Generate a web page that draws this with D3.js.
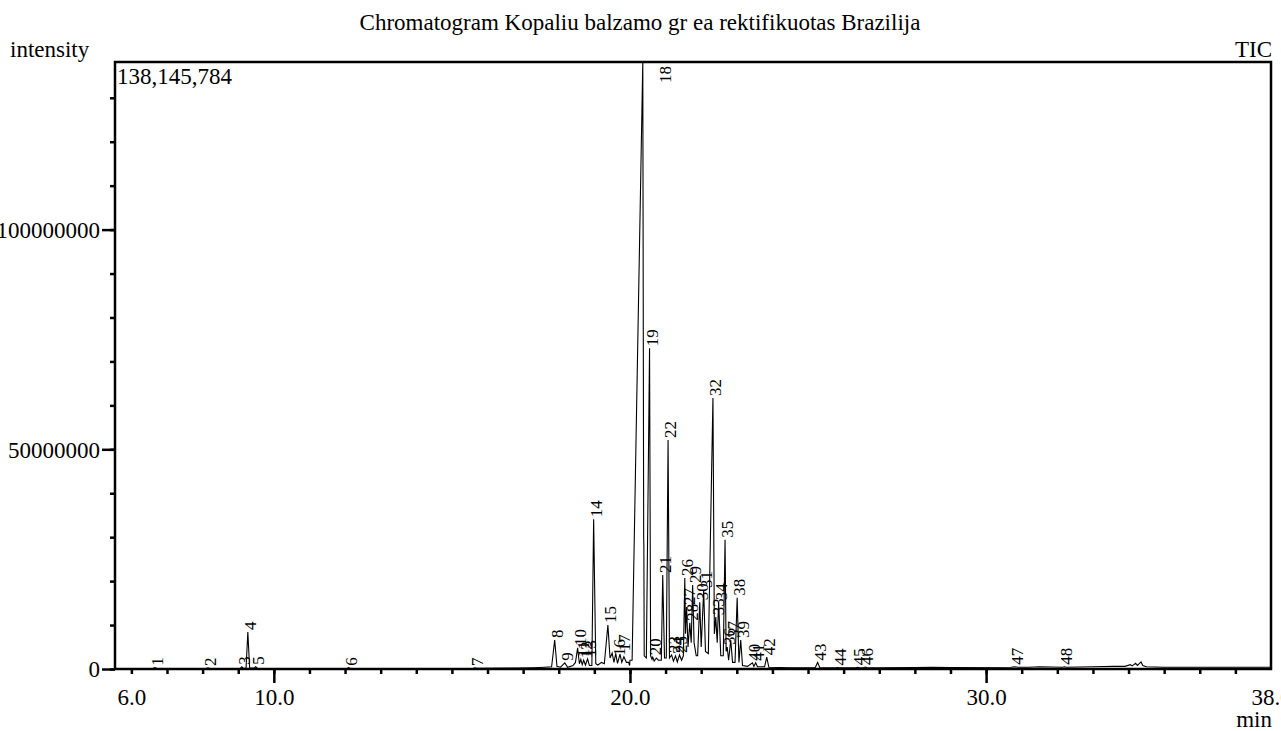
<!DOCTYPE html>
<html>
<head>
<meta charset="utf-8">
<script src="https://cdn.jsdelivr.net/npm/d3@7/dist/d3.min.js"></script>
<style>
  html, body { margin: 0; padding: 0; background: #fff; overflow: hidden; }
  svg { display: block; }
</style>
</head>
<body>
<svg id="chart" width="1281" height="731"></svg>
<script>
// ---- data (time in min, intensity in counts) ----
const titleText = "Chromatogram Kopaliu balzamo gr ea rektifikuotas Brazilija";
const maxIntensity = 138145784;
const timeDomain = [5.54, 38.0];

// TIC trace (time, intensity in millions)
const traceTimes = [
  5.54, 6.60, 6.66, 6.72, 8.10, 8.15, 8.20, 9.05, 9.10, 9.15, 9.22, 9.27, 9.32, 9.44, 9.49, 9.55,
  12.05, 12.10, 12.15, 15.60, 15.64, 15.70, 16.80, 17.30, 17.60, 17.80, 17.886, 17.95, 18.05, 18.17,
  18.25, 18.40, 18.47, 18.53, 18.58, 18.62, 18.66, 18.70, 18.75, 18.81, 18.86, 18.93, 18.98, 19.04,
  19.10, 19.20, 19.28, 19.38, 19.44, 19.50, 19.55, 19.60, 19.65, 19.72, 19.77, 19.83, 19.90, 19.96,
  19.99, 20.00, 20.06, 20.36, 20.385, 20.39, 20.40, 20.46, 20.55, 20.58, 20.62, 20.64, 20.68, 20.74,
  20.80, 20.88, 20.92, 20.97, 21.02, 21.07, 21.11, 21.17, 21.22, 21.28, 21.33, 21.39, 21.45, 21.50,
  21.54, 21.56, 21.59, 21.63, 21.68, 21.72, 21.76, 21.80, 21.86, 21.90, 21.96, 22.00, 22.07, 22.12,
  22.20, 22.33, 22.37, 22.41, 22.45, 22.49, 22.55, 22.62, 22.67, 22.70, 22.73, 22.77, 22.83, 22.88,
  22.95, 23.01, 23.06, 23.11, 23.16, 23.30, 23.44, 23.48, 23.53, 23.58, 23.78, 23.84, 23.90, 24.50,
  25.20, 25.27, 25.33, 25.78, 25.83, 25.88, 26.34, 26.39, 26.45, 26.55, 26.61, 26.66, 27.00, 28.00,
  28.50, 29.00, 30.70, 30.80, 30.90, 31.20, 31.50, 32.15, 32.20, 32.25, 33.00, 33.60, 33.90, 34.05,
  34.10, 34.20, 34.25, 34.35, 34.40, 34.50, 35.00, 36.00, 38.00
];
const traceValues = [
  0.1, 0.1, 0.3, 0.1, 0.1, 0.25, 0.1, 0.1, 0.5, 0.15, 0.2, 8.4, 0.3, 0.2, 0.5, 0.1,
  0.1, 0.3, 0.1, 0.1, 0.25, 0.15, 0.2, 0.3, 0.4, 0.5, 6.6, 0.6, 0.4, 1.4,
  0.4, 0.8, 1.5, 4.8, 1.2, 2.2, 1.0, 2.0, 0.9, 2.3, 0.8, 0.8, 34.1, 1.2,
  0.9, 1.5, 1.2, 10.0, 2.5, 3.6, 1.5, 3.5, 1.3, 3.4, 1.5, 2.8, 1.5, 1.5,
  0.8, 2.0, 2.0, 138.145784, 30.0, 28.0, 3.0, 2.5, 73.0, 3.0, 2.2, 2.7, 1.8, 2.5,
  2.0, 2.0, 21.4, 2.5, 2.5, 52.1, 2.5, 3.2, 1.8, 3.0, 1.6, 3.2, 2.0, 3.0,
  20.7, 8.0, 14.1, 5.0, 10.5, 6.0, 19.1, 6.0, 3.0, 3.0, 15.2, 5.0, 18.0, 4.0,
  3.5, 61.7, 8.0, 11.8, 6.0, 15.2, 3.0, 3.0, 29.4, 4.0, 5.0, 2.0, 6.6, 1.5,
  1.5, 16.2, 1.5, 6.6, 0.8, 0.6, 1.4, 0.6, 1.4, 0.5, 0.5, 2.7, 0.4, 0.3,
  0.3, 1.5, 0.3, 0.3, 0.35, 0.3, 0.3, 0.4, 0.3, 0.3, 0.45, 0.3, 0.3, 0.35,
  0.4, 0.35, 0.4, 0.5, 0.4, 0.4, 0.5, 0.4, 0.5, 0.4, 0.5, 0.6, 0.6, 1.0,
  0.7, 1.3, 0.8, 1.6, 0.8, 0.5, 0.4, 0.4, 0.4
];

// labelled peaks (id, retention time, apex intensity in millions)
const peakIds = ["1","2","3","4","5","6","7","8","9","10","11","12","13","14","15","16","17","18","19","20",
  "21","22","23","24","25","26","27","28","29","30","31","32","33","34","35","36","37","38","39","40",
  "41","42","43","44","45","46","47","48"];
const peakTimes = [6.66, 8.15, 9.10, 9.27, 9.49, 12.10, 15.64, 17.886, 18.17, 18.53, 18.62, 18.70, 18.81,
  18.98, 19.38, 19.65, 19.77, 20.36, 20.55, 20.64, 20.92, 21.07, 21.17, 21.28, 21.39, 21.54, 21.59, 21.68,
  21.76, 21.96, 22.07, 22.33, 22.41, 22.49, 22.67, 22.73, 22.83, 23.01, 23.11, 23.44, 23.53, 23.84,
  25.27, 25.83, 26.39, 26.61, 30.80, 32.20];
const peakHeights = [0.3, 0.25, 0.5, 8.4, 0.5, 0.3, 0.25, 6.6, 1.4, 4.8, 2.2, 2.0, 2.3,
  34.1, 10.0, 2.5, 3.6, 138.145784, 73.0, 2.7, 21.4, 52.1, 3.2, 3.0, 3.2, 20.7, 14.1, 10.5,
  19.1, 15.2, 18.0, 61.7, 11.8, 15.2, 29.4, 5.0, 6.6, 16.2, 6.6, 1.4, 1.4, 2.7,
  1.5, 0.35, 0.4, 0.45, 0.5, 0.5];

// axis tick definitions
const minorTicksX = d3.range(6, 38, 1);
const majorTicksX = [10, 20, 30];
const labelTicksX = [6, 10, 20, 30, 38];
const labelTextX = ["6.0", "10.0", "20.0", "30.0", "38.0"];
const minorTicksY = d3.range(0, 140000000, 10000000);
const majorTicksY = [0, 50000000, 100000000];
const labelTextY = ["0", "50000000", "100000000"];

// ---- layout ----
const pLeft = 115, pRight = 1271, pTop = 62, pBottom = 669;
const svg = d3.select("#chart");
const x = d3.scaleLinear().domain(timeDomain).range([pLeft, pRight]);
const y = d3.scaleLinear().domain([0, maxIntensity]).range([pBottom, pTop]);
const fs = 23;
const FONT = '"Liberation Serif", "Times New Roman", serif';

function txt(sel) { return sel.style("font-family", FONT).style("fill", "#000"); }

// title & corner texts
txt(svg.append("text")).attr("x", 640).attr("y", 30).attr("text-anchor", "middle")
  .style("font-size", fs + "px").text(titleText);
txt(svg.append("text")).attr("x", 10).attr("y", 57).style("font-size", fs + "px").text("intensity");
txt(svg.append("text")).attr("x", 1272).attr("y", 57).attr("text-anchor", "end").style("font-size", fs + "px").text("TIC");
txt(svg.append("text")).attr("x", 117).attr("y", 84).style("font-size", fs + "px")
  .text(d3.format(",")(maxIntensity));
txt(svg.append("text")).attr("x", 1272).attr("y", 727).attr("text-anchor", "end").style("font-size", fs + "px").text("min");

// clip for trace
svg.append("clipPath").attr("id", "plotclip").append("rect")
  .attr("x", pLeft).attr("y", pTop).attr("width", pRight - pLeft).attr("height", pBottom - pTop + 1);

// trace
const trace = traceTimes.map((t, i) => [t, traceValues[i] * 1e6]);
const line = d3.line().x(d => x(d[0])).y(d => y(d[1]));
svg.append("path").datum(trace)
  .attr("clip-path", "url(#plotclip)")
  .attr("fill", "none").attr("stroke", "#000").attr("stroke-width", 1.1)
  .attr("stroke-linejoin", "miter").attr("d", line);

// x axis ticks
const gx = svg.append("g").attr("transform", `translate(0,${pBottom})`);
gx.append("g").call(d3.axisBottom(x).tickValues(minorTicksX).tickSize(5).tickFormat(""));
gx.append("g").call(d3.axisBottom(x).tickValues(majorTicksX).tickSize(14).tickFormat(""));
const gxl = gx.append("g").call(d3.axisBottom(x).tickValues(labelTicksX).tickSize(0)
  .tickFormat((d, i) => labelTextX[i]));
txt(gxl.selectAll("text")).style("font-size", fs + "px").attr("y", 36).attr("dy", 0);
gx.selectAll(".domain").remove();
gx.selectAll("line").attr("stroke", "#000").attr("stroke-width", 2.5);

// y axis ticks
const gy = svg.append("g").attr("transform", `translate(${pLeft},0)`);
gy.append("g").call(d3.axisLeft(y).tickValues(minorTicksY).tickSize(5).tickFormat(""));
const gyl = gy.append("g").call(d3.axisLeft(y).tickValues(majorTicksY).tickSize(13)
  .tickFormat((d, i) => labelTextY[i]));
txt(gyl.selectAll("text")).style("font-size", fs + "px").attr("x", -15).attr("dy", "0.34em");
gy.selectAll(".domain").remove();
gy.selectAll("line").attr("stroke", "#000").attr("stroke-width", 2.5);

// frame
svg.append("rect").attr("x", pLeft).attr("y", pTop).attr("width", pRight - pLeft).attr("height", pBottom - pTop)
  .attr("fill", "none").attr("stroke", "#000").attr("stroke-width", 2.5);

// peak labels
const gl = svg.append("g");
peakIds.forEach((id, i) => {
  const h = peakHeights[i] * 1e6;
  let px = x(peakTimes[i]) + 2, py = y(h) - 2;
  if (h >= maxIntensity) { px = x(peakTimes[i]) + 22; py = y(maxIntensity) + 21; }
  txt(gl.append("text"))
    .attr("transform", `translate(${px},${py}) rotate(-90)`)
    .attr("dy", "0.35em")
    .style("font-size", "17px")
    .text(id);
});
</script>
</body>
</html>
